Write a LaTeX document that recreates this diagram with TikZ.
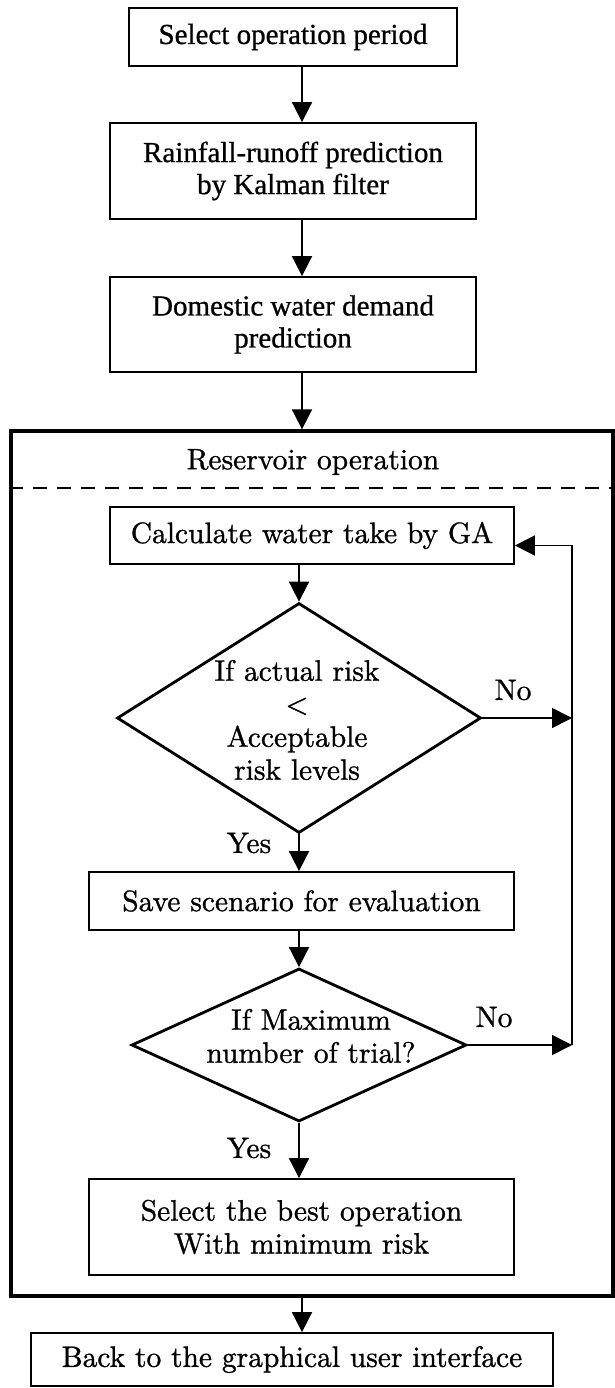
\documentclass[tikz,border=0pt]{standalone}
\usepackage{fontspec}
\usepackage{xcolor}
\usepackage{tikz}
\usetikzlibrary{positioning, arrows.meta, shapes.geometric}
\newfontfamily\timesfont{Liberation Serif}[FakeBold=0.8]
\newfontfamily\lmten{lmroman10-regular.otf}[FakeBold=1]

\begin{document}
\begin{tikzpicture}[
    x=1pt, y=-1pt,
    box/.style={
        draw,
        line width=1.8pt,
        align=center,
        inner sep=0pt,
        font=\lmten\fontsize{29.5}{33}\selectfont
    },
    topbox/.style={box, font=\timesfont\fontsize{29}{32}\selectfont},
    decision/.style={draw, diamond, line width=2.8pt, inner sep=0pt},
    dtext/.style={align=center, inner sep=0pt, font=\lmten\fontsize{29.5}{33}\selectfont},
    arrow/.style={-{Triangle[length=20pt,width=20pt]}, line width=1.8pt},
    lbl/.style={font=\lmten\fontsize{29.5}{33}\selectfont, inner sep=0pt}
]
\useasboundingbox (0,0) rectangle (614,1388);

\coordinate (axis) at (302,0);
\coordinate (loop) at (572,0);

% prediction steps
\node[topbox, minimum width=328pt, minimum height=58pt] (select) at (293,37) {Select operation period};
\node[topbox, minimum width=366pt, minimum height=96pt] (rain) at (293,171) {Rainfall-runoff prediction\\by Kalman filter};
\node[topbox, minimum width=366pt, minimum height=95pt] (demand) at (293,324.5) {Domestic water demand\\prediction};

% reservoir operation block
\node[draw, line width=3.3pt, minimum width=602pt, minimum height=865pt] (resv) at (312,863.5) {};
\node[lbl] (title) at (313,462) {Reservoir operation};
\draw[dashed, line width=2.4pt, dash pattern=on 14pt off 10pt] (resv.west |- 0,488) -- (resv.east |- 0,488);

\node[box, minimum width=404pt, minimum height=57pt] (calc) at (312,535.5) {Calculate water take by GA};
\node[decision, minimum width=364pt, minimum height=230pt] (risk) at (299,718) {};
\node[dtext] (risktxt) at (297,720) {If actual risk\\<\\Acceptable\\risk levels};
\node[box, minimum width=425pt, minimum height=58pt] (save) at (301.5,901) {Save scenario for evaluation};
\node[decision, minimum width=335pt, minimum height=153pt] (trial) at (299,1045) {};
\node[dtext] (trialtxt) at (311,1036) {If Maximum\\number of trial?};
\node[box, minimum width=425pt, minimum height=96pt] (best) at (301.5,1227) {Select the best operation\\With minimum risk};

\node[box, minimum width=522pt, minimum height=53pt] (back) at (292,1359.5) {Back to the graphical user interface};

% labels
\node[lbl] (no1) at (513,690) {No};
\node[lbl] (yes1) at (249,843) {Yes};
\node[lbl] (no2) at (494,1017) {No};
\node[lbl] (yes2) at (249,1148) {Yes};

% connectors
\draw[arrow] (select.south -| axis) -- (rain.north -| axis);
\draw[arrow] (rain.south -| axis) -- (demand.north -| axis);
\draw[arrow] (demand.south -| axis) -- (resv.north -| axis);
\draw[arrow] (calc.south -| risk) -- (risk.north);
\draw[arrow] (risk.south) -- (save.north -| risk);
\draw[arrow] (save.south -| trial) -- (trial.north);
\draw[arrow] (trial.south) -- (best.north -| trial);
\draw[arrow] (resv.south -| axis) -- (back.north -| axis);

% loop back
\draw[arrow] (risk.east) -- (risk.east -| loop);
\draw[arrow] (trial.east) -- (trial.east -| loop);
\draw[arrow] (trial.east -| loop) |- ([yshift=-10pt]calc.east);

\end{tikzpicture}
\end{document}
